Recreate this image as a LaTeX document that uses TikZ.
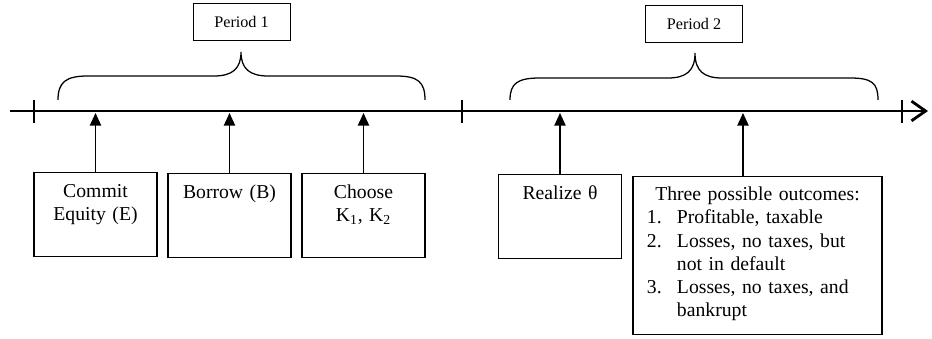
\documentclass[tikz,border=0pt]{standalone}
\usepackage{fontspec}
\setmainfont{Liberation Serif}
\usetikzlibrary{arrows.meta,positioning,calc}

\begin{document}
\begin{tikzpicture}[
  x=0.025cm,y=0.025cm,
  >={Triangle[length=9pt,width=8pt]},
  axis/.style={line width=2pt,-{Straight Barb[length=10pt,width=14pt]}},
  tickmark/.style={line width=1.3pt},
  brace/.style={line width=0.9pt},
  pbox/.style={draw,line width=0.6pt,minimum width=2.425cm,minimum height=0.925cm,inner sep=0pt,
               font=\fontsize{11.5}{13}\selectfont},
  evbox/.style={draw,line width=0.9pt,anchor=north,inner xsep=0.1cm,inner ysep=0.15cm,
                text width=2.875cm,align=center,text height=0.475cm,text depth=1.325cm,
                font=\fontsize{14}{16.5}\selectfont},
  evarrow/.style={->,line width=1.1pt},
]
\useasboundingbox (0,0) rectangle (932,339);

% ===================== TIME LINE =====================
\coordinate (tstart) at (10,228);
\coordinate (tend) at (928,228);
\coordinate (tline) at (0,226);
\draw[axis] (tstart) -- (tend);
\foreach \x in {34,462,902}{\draw[tickmark] (\x,216) -- (\x,239);}

% ===================== PERIOD 1 =====================
\node[pbox] (per1) at (241.5,317.5) {Period 1};
\draw[brace] (58,239) .. controls (58,257) and (66,263) .. (88,263) -- (214,263)
  .. controls (232,263) and (241,270) .. (241,287)
  .. controls (241,270) and (250,263) .. (268,263) -- (396,263)
  .. controls (418,263) and (425,257) .. (425,239);

\node[evbox] (commit) at (95.5,167) {Commit\\Equity (E)};
\node[evbox] (borrow) at (229.5,166) {Borrow (B)};
\node[evbox] (choose) at (363.5,166) {Choose\\K\textsubscript{1}, K\textsubscript{2}};
\foreach \n in {commit,borrow,choose}{\draw[evarrow] (\n.north) -- (\n.north |- tline);}

% ===================== PERIOD 2 =====================
\node[pbox] (per2) at (694,315.5) {Period 2};
\draw[brace] (510,239) .. controls (510,256) and (518,261) .. (540,261) -- (668,261)
  .. controls (686,261) and (695,268) .. (695,286)
  .. controls (695,268) and (704,261) .. (722,261) -- (850,261)
  .. controls (872,261) and (878,256) .. (878,239);

\node[evbox] (realize) at (560,165) {Realize θ};
\node[evbox,text width=5.525cm,inner xsep=0.35cm,align=left,text height=0.45cm,text depth=3.2cm]
  (outc) at (757.5,163) {%
  {\centering Three possible outcomes:\par}
  \hangindent=0.75cm\hangafter=1\makebox[0.75cm][l]{1.}Profitable, taxable\par
  \hangindent=0.75cm\hangafter=1\makebox[0.75cm][l]{2.}Losses, no taxes, but\newline not in default\par
  \hangindent=0.75cm\hangafter=1\makebox[0.75cm][l]{3.}Losses, no taxes, and\newline bankrupt\par};
\coordinate (hit5) at (743,226);
\draw[evarrow] (realize.north) -- (realize.north |- tline);
\draw[evarrow] (hit5 |- outc.north) -- (hit5);

\end{tikzpicture}
\end{document}
